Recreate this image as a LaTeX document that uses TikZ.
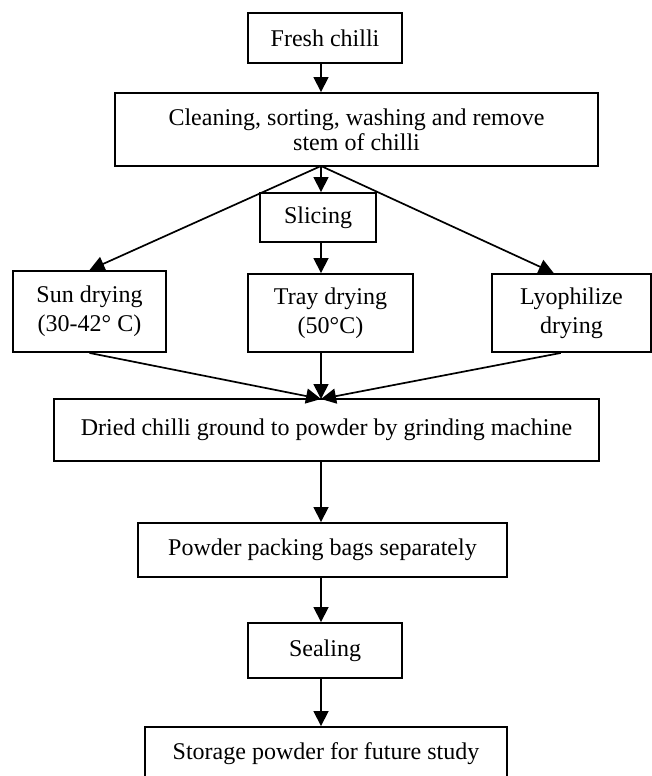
\documentclass[tikz,border=0pt]{standalone}
\usepackage{fontspec}
\setmainfont{Liberation Serif}
\usetikzlibrary{arrows.meta}

\tikzset{
  stage/.style={draw, line width=0.95pt, align=center, inner sep=0pt,
    font=\fontsize{12}{14.5}\selectfont},
  flow/.style={line width=0.85pt, -{Triangle[length=7.5pt,width=7.5pt]}}
}

\begin{document}
\begin{tikzpicture}[x=0.5pt, y=-0.5pt]
  \useasboundingbox (0,0) rectangle (652,776);

  \node[stage, minimum width=77pt, minimum height=25pt] (fresh) at (325,38) {Fresh chilli};
  \node[stage, minimum width=241.5pt, minimum height=36.5pt] (clean) at (356.5,129.5)
    {Cleaning, sorting, washing and remove\\[-2pt] stem of chilli};
  \node[stage, minimum width=58pt, minimum height=24.5pt] (slicing) at (318,217.5) {Slicing};

  \node[stage, minimum width=76.5pt, minimum height=40.5pt] (sun) at (89.5,311.5) {Sun drying\\ (30-42° C)};
  \node[stage, minimum width=82.5pt, minimum height=39pt] (tray) at (330.5,313) {Tray drying\\ (50°C)};
  \node[stage, minimum width=79.5pt, minimum height=39pt] (lyo) at (571.5,313) {Lyophilize\\ drying};

  \node[stage, minimum width=272.5pt, minimum height=31pt] (dried) at (326.5,430)
    {Dried chilli ground to powder by grinding machine};
  \node[stage, minimum width=184.5pt, minimum height=27pt] (powder) at (322.5,550) {Powder packing bags separately};
  \node[stage, minimum width=77pt, minimum height=27.5pt] (sealing) at (325,650.5) {Sealing};
  \node[stage, minimum width=181pt, minimum height=27pt] (storage) at (326,754) {Storage powder for future study};

  \coordinate (split) at (321,166);
  \coordinate (join) at (321,399);

  \draw[flow] (fresh.south -| split) -- (clean.north -| split);
  \draw[flow] (split) -- (sun.north);
  \draw[flow] (split) -- (slicing.north -| split);
  \draw[flow] (split) -- (lyo.114);
  \draw[flow] (slicing.south -| split) -- (tray.north -| split);

  \draw[flow] (sun.south) -- (join);
  \draw[flow] (tray.south -| join) -- (join);
  \draw[flow] (lyo.255) -- (join);

  \draw[flow] (dried.south -| join) -- (powder.north -| join);
  \draw[flow] (powder.south -| join) -- (sealing.north -| join);
  \draw[flow] (sealing.south -| join) -- (storage.north -| join);
\end{tikzpicture}
\end{document}
